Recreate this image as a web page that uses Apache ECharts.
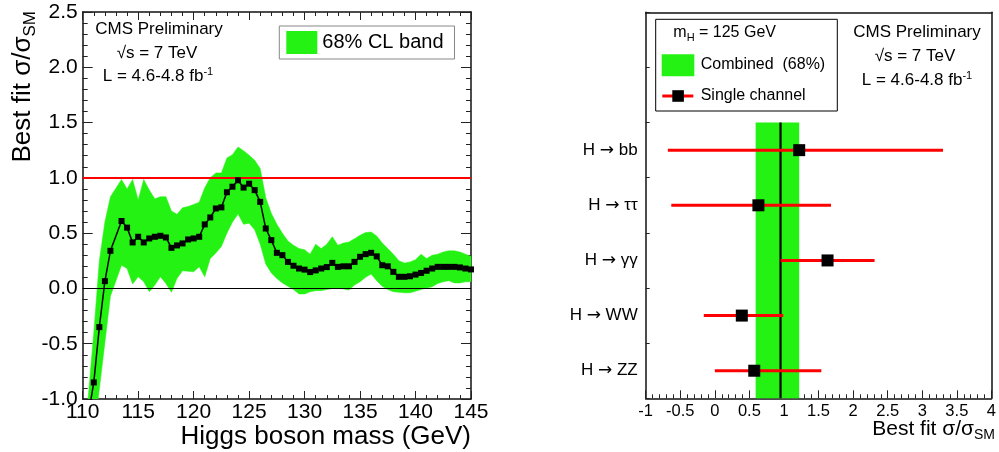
<!DOCTYPE html>
<html><head><meta charset="utf-8">
<script src="https://cdn.jsdelivr.net/npm/echarts/dist/echarts.min.js"></script>
<style>html,body{margin:0;padding:0;background:#fff}#c{width:999px;height:452px}</style>
</head><body><div id="c"></div>
<script>
// ---------- left panel data ----------
const masses = [110, 110.5, 111, 111.5, 112, 112.5,
  113.5, 114, 114.5, 115, 115.5, 116, 116.5, 117, 117.5, 118, 118.5, 119, 119.5, 120,
  120.5, 121, 121.5, 122, 122.5, 123, 123.5, 124, 124.5, 125, 125.5, 126, 126.5, 127, 127.5,
  128, 128.5, 129, 129.5, 130, 130.5, 131, 131.5, 132, 132.5, 133, 133.5, 134, 134.5, 135,
  135.5, 136, 136.5, 137, 137.5, 138, 138.5, 139, 139.5, 140, 140.5, 141, 141.5, 142, 142.5,
  143, 143.5, 144, 144.5, 145];
const bestFit = [-1.45, -1.15, -0.85, -0.35, 0.066, 0.34,
  0.61, 0.55, 0.416, 0.467, 0.416, 0.452, 0.467, 0.476, 0.461, 0.367, 0.389, 0.407, 0.443, 0.452,
  0.467, 0.579, 0.642, 0.723, 0.733, 0.87, 0.92, 0.978, 0.912, 0.947, 0.889, 0.783, 0.542, 0.437, 0.322,
  0.301, 0.24, 0.205, 0.18, 0.17, 0.148, 0.163, 0.18, 0.193, 0.231, 0.195, 0.2, 0.2, 0.24, 0.286,
  0.31, 0.322, 0.29, 0.21, 0.2, 0.15, 0.105, 0.105, 0.11, 0.125, 0.14, 0.16, 0.18, 0.195, 0.195,
  0.195, 0.195, 0.19, 0.18, 0.172];
const bandHigh = [-1.6, -0.98, -0.40, 0.25, 0.60, 0.83,
  0.985, 0.90, 0.985, 0.80, 0.985, 0.89, 0.81, 0.83, 0.83, 0.70, 0.67, 0.73, 0.74, 0.76,
  0.78, 0.91, 1.0, 1.045, 1.045, 1.18, 1.21, 1.28, 1.245, 1.205, 1.16, 1.085, 0.82, 0.68, 0.58,
  0.50, 0.43, 0.39, 0.36, 0.35, 0.31, 0.40, 0.36, 0.40, 0.467, 0.39, 0.41, 0.42, 0.45, 0.48,
  0.505, 0.51, 0.475, 0.41, 0.36, 0.31, 0.25, 0.23, 0.24, 0.26, 0.31, 0.27, 0.30, 0.31, 0.33,
  0.34, 0.34, 0.33, 0.31, 0.29];
const bandLow = [-2.2, -1.8, -1.33, -0.91, -0.49, -0.07,
  0.21, 0.18, 0.04, 0.105, 0.06, -0.03, 0.03, 0.105, 0.045, -0.035, 0.09, 0.16, 0.155, 0.15,
  0.195, 0.105, 0.27, 0.32, 0.38, 0.50, 0.60, 0.672, 0.58, 0.59, 0.53, 0.40, 0.22, 0.14, 0.09,
  0.05, 0.02, -0.01, -0.05, -0.05, -0.03, -0.02, -0.02, -0.01, 0.0, 0.0, -0.005, -0.015, 0.03, 0.06,
  0.10, 0.13, 0.07, 0.02, -0.01, -0.03, -0.035, -0.04, -0.04, -0.025, -0.01, 0.005, 0.015, 0.045, 0.06,
  0.07, 0.05, 0.05, 0.06, 0.06];
const smLine = 1.0;

// ---------- right panel data ----------
const channels = ['H → bb', 'H → ττ', 'H → γγ', 'H → WW', 'H → ZZ'];
const channelFit = [1.22, 0.63, 1.63, 0.39, 0.57];
const channelLow = [-0.68, -0.63, 0.95, -0.16, 0.00];
const channelHigh = [3.30, 1.68, 2.31, 0.99, 1.54];
const combinedFit = 0.95;
const combinedLow = 0.59;
const combinedHigh = 1.22;

const FONT = '"Liberation Sans", Arial, Helvetica, sans-serif';
const GREEN = '#24f212';
const RED = '#ff0000';

const yCats = channels.slice().reverse().concat(['', ' ']);

const chart = echarts.init(document.getElementById('c'), null, {renderer: 'canvas'});

const tickStyle = {color: '#222', width: 1};
function frameAxis(extra) {
  return Object.assign({
    axisLine: {show: true, onZero: false, lineStyle: {color: '#111', width: 1.5}},
    splitLine: {show: false}
  }, extra);
}

const option = {
  animation: false,
  backgroundColor: '#fff',
  grid: [
    {left: 82.7, top: 12, width: 388.3, height: 387, containLabel: false},
    {left: 645.7, top: 12.3, width: 348.6, height: 386, containLabel: false}
  ],
  xAxis: [
    frameAxis({type: 'value', gridIndex: 0, position: 'bottom', min: 110, max: 145, interval: 5,
      axisTick: {show: true, inside: true, length: 8, lineStyle: tickStyle},
      minorTick: {show: true, splitNumber: 5, length: 4, lineStyle: tickStyle},
      axisLabel: {fontFamily: FONT, fontSize: 21, color: '#000', margin: 3}}),
    frameAxis({type: 'value', gridIndex: 0, position: 'top', min: 110, max: 145, interval: 5,
      axisTick: {show: true, inside: true, length: 8, lineStyle: tickStyle},
      minorTick: {show: true, splitNumber: 5, length: 4, lineStyle: tickStyle},
      axisLabel: {show: false}}),
    frameAxis({type: 'value', gridIndex: 1, position: 'bottom', min: -1, max: 4, interval: 0.5,
      axisTick: {show: true, inside: true, length: 8, lineStyle: tickStyle},
      minorTick: {show: true, splitNumber: 5, length: 4, lineStyle: tickStyle},
      axisLabel: {fontFamily: FONT, fontSize: 16.5, color: '#000', margin: 5}}),
    frameAxis({type: 'value', gridIndex: 1, position: 'top', min: -1, max: 4,
      axisTick: {show: false}, axisLabel: {show: false}})
  ],
  yAxis: [
    frameAxis({type: 'value', gridIndex: 0, position: 'left', min: -1, max: 2.5, interval: 0.5,
      axisTick: {show: true, inside: true, length: 10, lineStyle: tickStyle},
      minorTick: {show: true, splitNumber: 5, length: 5, lineStyle: tickStyle},
      axisLabel: {fontFamily: FONT, fontSize: 21, color: '#000', margin: 5,
        formatter: v => v.toFixed(1)}}),
    frameAxis({type: 'value', gridIndex: 0, position: 'right', min: -1, max: 2.5, interval: 0.5,
      axisTick: {show: true, inside: true, length: 10, lineStyle: tickStyle},
      minorTick: {show: true, splitNumber: 5, length: 5, lineStyle: tickStyle},
      axisLabel: {show: false}}),
    {type: 'value', gridIndex: 1, show: false, min: 0, max: yCats.length},
    frameAxis({type: 'category', gridIndex: 1, position: 'left', data: yCats, boundaryGap: true,
      axisTick: {show: true, inside: true, length: 4, lineStyle: tickStyle},
      axisLabel: {interval: 0, margin: 8, color: '#000',
        formatter: v => {
          if (!v.trim()) return '';
          const parts = v.split(' → ');
          return '{a|' + parts[0] + ' }{b|→}{a| ' + parts[1] + '}';
        },
        rich: {
          a: {fontFamily: FONT, fontSize: 17, color: '#000'},
          b: {fontFamily: '"DejaVu Sans", sans-serif', fontSize: 17, color: '#000'}
        }}}),
    frameAxis({type: 'value', gridIndex: 1, position: 'right', min: 0, max: yCats.length,
      axisTick: {show: false}, axisLabel: {show: false}})
  ],
  legend: {
    data: ['68% CL band'], left: 279.3, top: 26, icon: 'rect', itemWidth: 31, itemHeight: 23,
    padding: [5, 11, 5, 7], borderColor: '#888', borderWidth: 1, backgroundColor: '#fff',
    selectedMode: false, textStyle: {fontFamily: FONT, fontSize: 20, color: '#000'}
  },
  series: [
    {type: 'custom', name: '68% CL band', xAxisIndex: 0, yAxisIndex: 0, silent: true, clip: true, z: 1,
      color: GREEN, itemStyle: {color: GREEN},
      data: masses.map((m, i) => [m, bandLow[i], bandHigh[i]]), encode: {x: 0, y: [1, 2]},
      renderItem: (params, api) => {
        if (params.dataIndex !== 0) return null;
        const pts = [];
        for (let i = 0; i < masses.length; i++) pts.push(api.coord([masses[i], bandHigh[i]]));
        for (let i = masses.length - 1; i >= 0; i--) pts.push(api.coord([masses[i], bandLow[i]]));
        return {type: 'polygon', shape: {points: pts}, style: {fill: GREEN, stroke: GREEN, lineWidth: 0.5}};
      }},
    {type: 'line', name: 'fit', xAxisIndex: 0, yAxisIndex: 0,
      data: masses.map((m, i) => [m, bestFit[i]]), symbol: 'rect', symbolSize: 6,
      itemStyle: {color: '#000'}, lineStyle: {color: '#000', width: 1.5}, z: 5,
      markLine: {silent: true, symbol: ['none', 'none'], label: {show: false},
        data: [
          {yAxis: smLine, lineStyle: {color: RED, width: 2.2, type: 'solid'}},
          {yAxis: 0, lineStyle: {color: '#000', width: 1.2, type: 'solid'}}
        ]}},
    {type: 'custom', name: 'combinedBand', xAxisIndex: 2, yAxisIndex: 2, silent: true, z: 1,
      data: [[combinedLow, 0, combinedHigh, channels.length]], encode: {x: [0, 2], y: [1, 3]},
      renderItem: (params, api) => {
        const p0 = api.coord([api.value(0), api.value(1)]);
        const p1 = api.coord([api.value(2), api.value(3)]);
        return {type: 'rect', shape: {x: p0[0], y: p1[1], width: p1[0] - p0[0], height: p0[1] - p1[1]},
          style: {fill: GREEN}};
      }},
    {type: 'custom', name: 'combinedLine', xAxisIndex: 2, yAxisIndex: 2, silent: true, z: 2,
      data: [[combinedFit, 0, combinedFit, channels.length]], encode: {x: [0, 2], y: [1, 3]},
      renderItem: (params, api) => {
        const p0 = api.coord([api.value(0), api.value(1)]);
        const p1 = api.coord([api.value(2), api.value(3)]);
        return {type: 'line', shape: {x1: p0[0], y1: p0[1], x2: p1[0], y2: p1[1]},
          style: {stroke: '#000', lineWidth: 2.2}};
      }},
    {type: 'custom', name: 'errorBars', xAxisIndex: 2, yAxisIndex: 3, silent: true, z: 3,
      data: channels.map((c, i) => [channelLow[i], yCats.indexOf(c), channelHigh[i]]),
      encode: {x: [0, 2], y: 1},
      renderItem: (params, api) => {
        const p0 = api.coord([api.value(0), api.value(1)]);
        const p1 = api.coord([api.value(2), api.value(1)]);
        return {type: 'line', shape: {x1: p0[0], y1: p0[1], x2: p1[0], y2: p1[1]},
          style: {stroke: RED, lineWidth: 3}};
      }},
    {type: 'scatter', name: 'Single channel', xAxisIndex: 2, yAxisIndex: 3, z: 4,
      data: channels.map((c, i) => [channelFit[i], yCats.indexOf(c)]),
      symbol: 'rect', symbolSize: 12, itemStyle: {color: '#000', opacity: 1}}
  ],
  graphic: [
    // left panel annotations
    {type: 'text', x: 159, y: 29, style: {text: 'CMS Preliminary', font: '17px ' + FONT, fill: '#000', align: 'center', verticalAlign: 'middle'}},
    {type: 'text', x: 157, y: 53, style: {text: '√s = 7 TeV', font: '17px ' + FONT, fill: '#000', align: 'center', verticalAlign: 'middle'}},
    {type: 'text', x: 158, y: 76, style: {text: '{a|L = 4.6-4.8 fb}{s|-1}', align: 'center', verticalAlign: 'middle',
      rich: {a: {fontFamily: FONT, fontSize: 17, lineHeight: 20, fill: '#000'}, s: {fontFamily: FONT, fontSize: 11, lineHeight: 12, verticalAlign: 'top', fill: '#000'}}}},
    {type: 'text', x: 23, y: 11, rotation: Math.PI / 2, style: {text: '{a|Best fit σ/σ}{b|SM}', align: 'right', verticalAlign: 'middle',
      rich: {a: {fontFamily: FONT, fontSize: 26, lineHeight: 32, fill: '#000'}, b: {fontFamily: FONT, fontSize: 17, lineHeight: 16, verticalAlign: 'bottom', fill: '#000'}}}},
    {type: 'text', x: 471, y: 437, style: {text: 'Higgs boson mass (GeV)', font: '26px ' + FONT, fill: '#000', align: 'right', verticalAlign: 'middle'}},
    // right panel annotations
    {type: 'text', x: 917, y: 32.5, style: {text: 'CMS Preliminary', font: '17px ' + FONT, fill: '#000', align: 'center', verticalAlign: 'middle'}},
    {type: 'text', x: 915, y: 56, style: {text: '√s = 7 TeV', font: '17px ' + FONT, fill: '#000', align: 'center', verticalAlign: 'middle'}},
    {type: 'text', x: 917, y: 80, style: {text: '{a|L = 4.6-4.8 fb}{s|-1}', align: 'center', verticalAlign: 'middle',
      rich: {a: {fontFamily: FONT, fontSize: 17, lineHeight: 20, fill: '#000'}, s: {fontFamily: FONT, fontSize: 11, lineHeight: 12, verticalAlign: 'top', fill: '#000'}}}},
    {type: 'text', x: 995, y: 429, style: {text: '{a|Best fit σ/σ}{b|SM}', align: 'right', verticalAlign: 'middle',
      rich: {a: {fontFamily: FONT, fontSize: 21, lineHeight: 26, fill: '#000'}, b: {fontFamily: FONT, fontSize: 14, lineHeight: 12, verticalAlign: 'bottom', fill: '#000'}}}},
    // right legend
    {type: 'rect', shape: {x: 655.7, y: 19.3, width: 181.6, height: 91.7}, style: {fill: 'none', stroke: '#000', lineWidth: 1}},
    {type: 'text', x: 673.3, y: 33, style: {text: '{a|m}{s|H}{a| = 125 GeV}', align: 'left', verticalAlign: 'middle',
      rich: {a: {fontFamily: FONT, fontSize: 16, lineHeight: 20, fill: '#000'}, s: {fontFamily: FONT, fontSize: 11, lineHeight: 10, verticalAlign: 'bottom', fill: '#000'}}}},
    {type: 'rect', shape: {x: 661.7, y: 54.3, width: 32.6, height: 22}, style: {fill: GREEN}},
    {type: 'text', x: 700.7, y: 64.5, style: {text: 'Combined  (68%)', font: '16px ' + FONT, fill: '#000', align: 'left', verticalAlign: 'middle'}},
    {type: 'line', shape: {x1: 662.3, y1: 96, x2: 693.3, y2: 96}, style: {stroke: RED, lineWidth: 3}},
    {type: 'rect', shape: {x: 672.3, y: 90.2, width: 11.6, height: 11.6}, style: {fill: '#000'}},
    {type: 'text', x: 700.7, y: 96, style: {text: 'Single channel', font: '16px ' + FONT, fill: '#000', align: 'left', verticalAlign: 'middle'}}
  ]
};
chart.setOption(option);
</script>
</body></html>
